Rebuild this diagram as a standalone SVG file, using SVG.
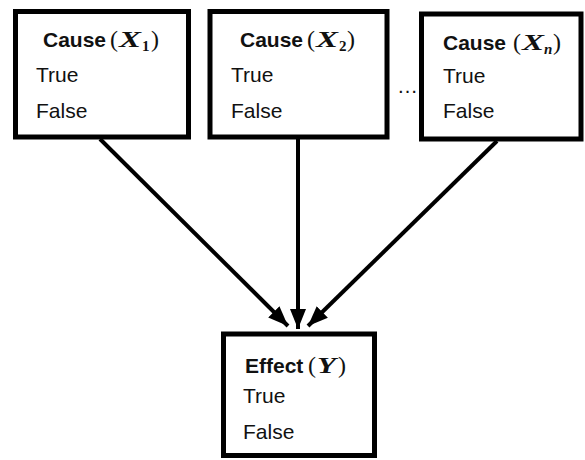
<svg xmlns="http://www.w3.org/2000/svg" width="585" height="460" viewBox="0 0 585 460">
<style>
.box{fill:#fff;stroke:#000;stroke-width:5}
.t{font-family:"Liberation Sans",Arial,sans-serif;font-size:21px;fill:#111}
.b{font-weight:bold}
.m{font-family:"Liberation Serif","Times New Roman",serif;font-size:24px;fill:#111}
.mi{font-family:"Liberation Serif","Times New Roman",serif;font-style:italic;font-weight:bold;font-size:23px;fill:#111}
.sub{font-family:"Liberation Serif","Times New Roman",serif;font-size:15px;font-weight:bold;fill:#111}
.edge{stroke:#000;stroke-width:4;fill:none;marker-end:url(#ah)}
</style>
<defs>
<marker id="ah" viewBox="0 0 10 8" refX="10" refY="4" markerWidth="5" markerHeight="4" orient="auto" markerUnits="strokeWidth">
<path d="M0,0 L10,4 L0,8 z" fill="#000"/>
</marker>
</defs>
<g id="connectors">
<line class="edge" x1="100" y1="139" x2="288" y2="326"/>
<line class="edge" x1="298" y1="139" x2="298" y2="329"/>
<line class="edge" x1="497" y1="141" x2="308" y2="326"/>
</g>
<g id="cause1">
<rect class="box" x="15.5" y="11.5" width="173" height="125.5"/>
<text class="t b" x="43" y="47">Cause</text>
<text class="m" x="110" y="47">(</text>
<text class="mi" x="119" y="47" textLength="22" lengthAdjust="spacingAndGlyphs">X</text>
<text class="sub" x="142" y="51">1</text>
<text class="m" x="151" y="47">)</text>
<text class="t" x="36" y="82">True</text>
<text class="t" x="36" y="118">False</text>
</g>
<g id="cause2">
<rect class="box" x="210" y="11.5" width="177" height="125.5"/>
<text class="t b" x="240" y="47">Cause</text>
<text class="m" x="307" y="47">(</text>
<text class="mi" x="316" y="47" textLength="22" lengthAdjust="spacingAndGlyphs">X</text>
<text class="sub" x="339" y="51" font-weight="normal">2</text>
<text class="m" x="347" y="47">)</text>
<text class="t" x="231" y="82">True</text>
<text class="t" x="231" y="118">False</text>
</g>
<g id="ellipsis">
<text class="t" x="397" y="93">…</text>
</g>
<g id="causen">
<rect class="box" x="421.5" y="14" width="159.5" height="125"/>
<text class="t b" x="443" y="50">Cause</text>
<text class="m" x="513" y="50">(</text>
<text class="mi" x="522" y="50" textLength="22" lengthAdjust="spacingAndGlyphs">X</text>
<text class="sub" x="544" y="54" font-style="italic">n</text>
<text class="m" x="553" y="50">)</text>
<text class="t" x="443" y="83">True</text>
<text class="t" x="443" y="118">False</text>
</g>
<g id="effect">
<rect class="box" x="223.5" y="334" width="151" height="121.5"/>
<text class="t b" x="245" y="373">Effect</text>
<text class="m" x="308" y="373">(</text>
<text class="mi" x="317" y="373" textLength="19" lengthAdjust="spacingAndGlyphs">Y</text>
<text class="m" x="338" y="373">)</text>
<text class="t" x="243" y="403">True</text>
<text class="t" x="243" y="439">False</text>
</g>
</svg>
